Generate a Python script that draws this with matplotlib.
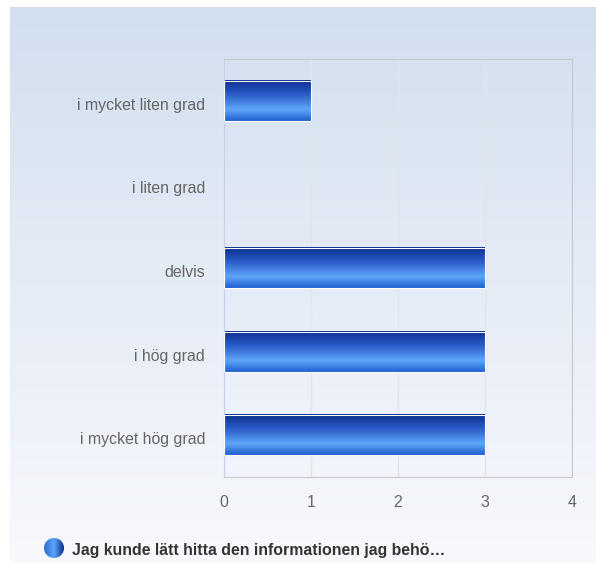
import matplotlib.pyplot as plt
import numpy as np
import matplotlib.transforms as mtransforms
from matplotlib.colors import LinearSegmentedColormap
from matplotlib.patches import Rectangle, Circle

categories = ["i mycket liten grad", "i liten grad", "delvis", "i hög grad", "i mycket hög grad"]
values = [1, 0, 3, 3, 3]
x_ticks = [0, 1, 2, 3, 4]
legend_label = "Jag kunde lätt hitta den informationen jag behö…"

plt.rcParams['font.family'] = ['Liberation Sans', 'DejaVu Sans']

W, H = 596, 563
fig = plt.figure(figsize=(W / 100, H / 100), dpi=100)

# background gradient panel
bg = fig.add_axes([0, 0, 1, 1], zorder=-10)
bg.set_xlim(0, W)
bg.set_ylim(H, 0)
bg.axis('off')
bg_cmap = LinearSegmentedColormap.from_list('bg', ['#d2dfef', '#f8f9fd'])
grad = np.linspace(0, 1, 256).reshape(-1, 1)
bg.imshow(grad, cmap=bg_cmap, aspect='auto', extent=[10, W, H, 7], interpolation='bicubic')

# plot area
ax = fig.add_axes([224 / W, 1 - 477 / H, (572 - 224) / W, (477 - 59) / H])
ax.patch.set_alpha(0)
ax.set_xlim(0, 4)
ax.set_ylim(len(categories) - 0.5, -0.5)
ax.set_xticks(x_ticks)
ax.set_yticks(range(len(categories)))
ax.set_yticklabels(categories)
ax.tick_params(length=0, colors='#666666', labelsize=11.4)
ax.tick_params(axis='x', pad=13)
ax.tick_params(axis='y', pad=13.5)
shift = mtransforms.ScaledTranslation(0, -3 / 100, fig.dpi_scale_trans)
for lbl in ax.get_yticklabels():
    lbl.set_va('center_baseline')
    lbl.set_transform(lbl.get_transform() + shift)
ax.grid(axis='x', color='#e2e4e8', linewidth=1)
ax.set_axisbelow(True)
for s in ['top', 'right', 'bottom']:
    ax.spines[s].set_color('#c8c8c8')
ax.spines['left'].set_color('#c4d0ee')

bar_cmap = LinearSegmentedColormap.from_list(
    'bar', [(0, '#0b2d8c'), (0.35, '#2b5cc8'), (0.72, '#5ea6f8'), (1, '#1f5fcf')])
bar_h = 0.48
for i, v in enumerate(values):
    if v <= 0:
        continue
    y0 = i - bar_h / 2
    ax.imshow(grad, cmap=bar_cmap, aspect='auto', extent=[0, v, i + bar_h / 2, y0],
              interpolation='bicubic', zorder=2)
    ax.add_patch(Rectangle((0, y0), v, bar_h, fill=False, edgecolor='white', linewidth=0.8, zorder=3))
ax.set_xlim(0, 4)
ax.set_ylim(len(categories) - 0.5, -0.5)

# legend
leg_cmap = LinearSegmentedColormap.from_list('leg', ['#2a6ad8', '#5ea6f8', '#0b2d8c'])
hgrad = np.linspace(0, 1, 256).reshape(1, -1)
im = bg.imshow(hgrad, cmap=leg_cmap, aspect='auto', extent=[44, 64, 558, 538], interpolation='bicubic')
circ = Circle((54, 548), 10, transform=bg.transData)
im.set_clip_path(circ)
bg.text(72, 551, legend_label, fontsize=11.4, fontweight='bold', color='#333333', va='center', ha='left')

fig.savefig('out.png', dpi=100)
